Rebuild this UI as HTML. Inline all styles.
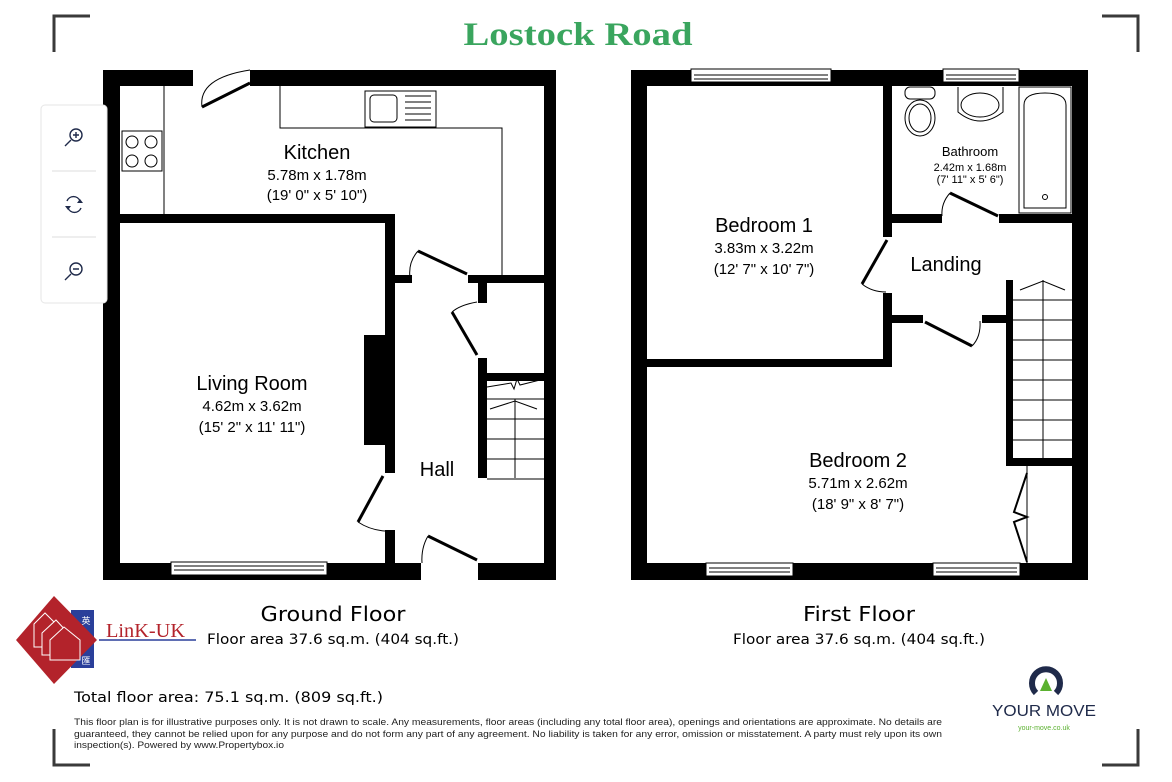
<!DOCTYPE html>
<html><head><meta charset="utf-8"><style>
html,body{margin:0;padding:0;background:#fff;}
svg{display:block;}
text{font-family:"Liberation Sans",sans-serif;}
.dv{font-family:"DejaVu Sans",sans-serif;}
</style></head><body>
<svg width="1172" height="782" viewBox="0 0 1172 782" xmlns="http://www.w3.org/2000/svg">
<rect width="1172" height="782" fill="#fff"/>
<g stroke="#3a3a3a" stroke-width="3" fill="none">
<path d="M54 52 V16 H90"/><path d="M1102 16 H1138 V52"/>
<path d="M54 729 V765 H90"/><path d="M1102 765 H1138 V729"/>
</g>
<text x="578" y="45" text-anchor="middle" style="font-family:'Liberation Serif',serif" font-weight="bold" font-size="33" fill="#3aa55e" textLength="229" lengthAdjust="spacingAndGlyphs">Lostock Road</text>

<!-- GROUND FLOOR -->
<g fill="#000">
<rect x="103" y="70" width="453" height="16"/>
<rect x="103" y="563" width="453" height="17"/>
<rect x="103" y="70" width="17" height="510"/>
<rect x="544" y="70" width="12" height="510"/>
<rect x="120" y="214" width="275" height="9"/>
<rect x="385" y="214" width="10" height="259"/>
<rect x="385" y="530" width="10" height="35"/>
<rect x="395" y="275" width="17" height="8"/>
<rect x="468" y="275" width="80" height="8"/>
<rect x="478" y="283" width="9" height="20"/>
<rect x="478" y="358" width="9" height="120"/>
<rect x="478" y="373" width="70" height="8"/>
<rect x="364" y="335" width="23" height="110"/>
</g>
<rect x="193" y="68" width="57" height="19" fill="#fff"/>
<rect x="421" y="562" width="57" height="20" fill="#fff"/>
<g stroke="#000" stroke-width="3" fill="none">
<line x1="250" y1="83" x2="202" y2="107"/>
<line x1="418" y1="251" x2="467" y2="274"/>
<line x1="477" y1="355" x2="452" y2="312"/>
<line x1="383" y1="476" x2="358" y2="522"/>
<line x1="428" y1="536" x2="477" y2="560"/>
</g>
<g stroke="#000" stroke-width="1" fill="none">
<path d="M250 70 Q198 78 202 107"/>
<path d="M418 251 Q408 262 410 278"/>
<path d="M477 302 Q460 305 452 312"/>
<path d="M358 522 Q370 530 385 531"/>
<path d="M428 536 Q421 548 422 563"/>
<path d="M164 86 V214"/>
<path d="M280 86 V128 H502 V275"/>
<rect x="122" y="131" width="40" height="40"/>
<circle cx="132" cy="142" r="6"/><circle cx="151" cy="142" r="6"/>
<circle cx="132" cy="161" r="6"/><circle cx="151" cy="161" r="6"/>
<rect x="365" y="91" width="71" height="36"/>
<rect x="370" y="95" width="27" height="27" rx="4"/>
<path d="M405 96 H431 M405 102 H431 M405 108 H431 M405 114 H431 M405 120 H431"/>
<path d="M487 399 H544 M487 419 H544 M487 439 H544 M487 459 H544 M515 399 V478 M487 479 H544"/>
<path d="M487 387 L511 383 L514 389 L517 379 L520 385 L544 379"/>
<path d="M490 409 L515 401 L537 409"/>
<rect x="171" y="562" width="156" height="13" fill="#fff"/>
<path d="M174 566 H324 M174 570 H324"/>
</g>
<g fill="#000" text-anchor="middle">
<text x="317" y="159" font-size="20">Kitchen</text>
<text x="317" y="180" font-size="15">5.78m x 1.78m</text>
<text x="317" y="200" font-size="15">(19' 0" x 5' 10")</text>
<text x="252" y="390" font-size="20">Living Room</text>
<text x="252" y="411" font-size="15">4.62m x 3.62m</text>
<text x="252" y="432" font-size="15">(15' 2" x 11' 11")</text>
<text x="437" y="476" font-size="20">Hall</text>
</g>

<!-- FIRST FLOOR -->
<g fill="#000">
<rect x="631" y="70" width="457" height="16"/>
<rect x="631" y="563" width="457" height="17"/>
<rect x="631" y="70" width="16" height="510"/>
<rect x="1072" y="70" width="16" height="510"/>
<rect x="883" y="70" width="9" height="167"/>
<rect x="883" y="293" width="9" height="74"/>
<rect x="647" y="359" width="245" height="8"/>
<rect x="892" y="214" width="50" height="9"/>
<rect x="999" y="214" width="73" height="9"/>
<rect x="892" y="315" width="31" height="8"/>
<rect x="982" y="315" width="31" height="8"/>
<rect x="1006" y="280" width="7" height="186"/>
<rect x="1006" y="458" width="66" height="8"/>
</g>
<g stroke="#000" stroke-width="3" fill="none">
<line x1="950" y1="193" x2="998" y2="216"/>
<line x1="887" y1="240" x2="862" y2="284"/>
<line x1="925" y1="322" x2="972" y2="346"/>
</g>
<g stroke="#000" stroke-width="1" fill="none">
<path d="M950 193 Q941 203 942 216"/>
<path d="M862 284 Q872 292 886 292"/>
<path d="M972 346 Q981 337 980 321"/>
<rect x="691" y="69" width="140" height="13" fill="#fff"/><path d="M694 75 H828 M694 79 H828"/>
<rect x="943" y="69" width="76" height="13" fill="#fff"/><path d="M946 75 H1016 M946 79 H1016"/>
<rect x="706" y="563" width="87" height="13" fill="#fff"/><path d="M709 568 H790 M709 572 H790"/>
<rect x="933" y="563" width="87" height="13" fill="#fff"/><path d="M936 568 H1017 M936 572 H1017"/>
<rect x="905" y="87" width="30" height="12" rx="5"/>
<ellipse cx="920" cy="118" rx="15" ry="18"/>
<ellipse cx="920" cy="118" rx="11" ry="14"/>
<path d="M958 87 V112 Q980 130 1003 112 V87"/>
<ellipse cx="980" cy="105" rx="19" ry="12"/>
<rect x="1019" y="87" width="52" height="126"/>
<path d="M1024 208 V105 Q1024 93 1045 93 Q1066 93 1066 105 V208 Z"/>
<circle cx="1045" cy="197" r="2.5"/>
<path d="M1013 300 H1072 M1013 320 H1072 M1013 340 H1072 M1013 360 H1072 M1013 380 H1072 M1013 400 H1072 M1013 420 H1072 M1013 440 H1072 M1043 280 V458"/>
<path d="M1020 290 L1043 281 L1065 290"/>
<path d="M1027 466 V563"/>
<path d="M1027 473 L1014 512 L1027 517 L1014 522 L1027 562" stroke-width="2"/>
</g>
<g fill="#000" text-anchor="middle">
<text x="764" y="232" font-size="20">Bedroom 1</text>
<text x="764" y="253" font-size="15">3.83m x 3.22m</text>
<text x="764" y="274" font-size="15">(12' 7" x 10' 7")</text>
<text x="970" y="156" font-size="13">Bathroom</text>
<text x="970" y="171" font-size="11">2.42m x 1.68m</text>
<text x="970" y="183" font-size="11">(7' 11" x 5' 6")</text>
<text x="946" y="271" font-size="20">Landing</text>
<text x="858" y="467" font-size="20">Bedroom 2</text>
<text x="858" y="488" font-size="15">5.71m x 2.62m</text>
<text x="858" y="509" font-size="15">(18' 9" x 8' 7")</text>
</g>

<!-- captions -->
<g fill="#000" class="dv">
<text class="dv" x="333" y="621" text-anchor="middle" font-size="20" textLength="145" lengthAdjust="spacingAndGlyphs">Ground Floor</text>
<text class="dv" x="333" y="644" text-anchor="middle" font-size="14" textLength="252" lengthAdjust="spacingAndGlyphs">Floor area 37.6 sq.m. (404 sq.ft.)</text>
<text class="dv" x="859" y="621" text-anchor="middle" font-size="20" textLength="112" lengthAdjust="spacingAndGlyphs">First Floor</text>
<text class="dv" x="859" y="644" text-anchor="middle" font-size="14" textLength="252" lengthAdjust="spacingAndGlyphs">Floor area 37.6 sq.m. (404 sq.ft.)</text>
<text class="dv" x="74" y="702" font-size="14" textLength="309" lengthAdjust="spacingAndGlyphs">Total floor area: 75.1 sq.m. (809 sq.ft.)</text>
</g>
<g font-size="9.5" fill="#222">
<text x="74" y="725" textLength="868" lengthAdjust="spacingAndGlyphs">This floor plan is for illustrative purposes only. It is not drawn to scale. Any measurements, floor areas (including any total floor area), openings and orientations are approximate. No details are</text>
<text x="74" y="737" textLength="868" lengthAdjust="spacingAndGlyphs">guaranteed, they cannot be relied upon for any purpose and do not form any part of any agreement. No liability is taken for any error, omission or misstatement. A party must rely upon its own</text>
<text x="74" y="748" textLength="210" lengthAdjust="spacingAndGlyphs">inspection(s). Powered by www.Propertybox.io</text>
</g>

<!-- Link-UK logo -->
<rect x="71" y="610" width="23" height="58" fill="#2a3f9a"/>
<polygon points="54,596 97,640 54,684 16,640" fill="#b3232b"/>
<text x="86" y="624" text-anchor="middle" font-size="9" fill="#fff" style="font-family:'Noto Sans CJK SC',sans-serif">英</text>
<text x="86" y="664" text-anchor="middle" font-size="9" fill="#fff" style="font-family:'Noto Sans CJK SC',sans-serif">匯</text>
<g stroke="#fff" stroke-width="1" fill="none">
<path d="M34 624 L45 613 L56 624 V647 H34 Z"/>
<path d="M42 633 L56 620 L68 633 V655 H42 Z" fill="#b3232b"/>
<path d="M50 640 L64 627 L80 640 V660 H50 Z" fill="#b3232b"/>
</g>
<text x="106" y="637" font-size="20" fill="#b3232b" style="font-family:'Liberation Serif',serif" textLength="79" lengthAdjust="spacingAndGlyphs">LinK-UK</text>
<line x1="99" y1="640" x2="196" y2="640" stroke="#2a3f9a" stroke-width="1.5"/>

<!-- Your Move logo -->
<path d="M1036 693 A14 14 0 1 1 1056 693" stroke="#1f2a4a" stroke-width="6" fill="none"/>
<polygon points="1046,678 1040,691 1052,691" fill="#5bb130"/>
<text x="1044" y="716" text-anchor="middle" font-size="16" fill="#1f2a4a" textLength="104" lengthAdjust="spacingAndGlyphs">YOUR MOVE</text>
<text x="1044" y="730" text-anchor="middle" font-size="7" fill="#5bb130">your-move.co.uk</text>

<!-- zoom toolbar -->
<rect x="41" y="105" width="66" height="198" rx="4" fill="#fff" stroke="#e6e6e6"/>
<g stroke="#ddd"><line x1="52" y1="171" x2="96" y2="171"/><line x1="52" y1="237" x2="96" y2="237"/></g>
<g stroke="#1f2a4a" stroke-width="1.4" fill="none">
<circle cx="76" cy="135" r="6"/><path d="M73 135 H79 M76 132 V138 M71 140 L65 146"/>
<circle cx="76" cy="269" r="6"/><path d="M73 269 H79 M71 274 L65 280"/>
<path d="M67 201 A7 7 0 0 1 80 201 M81 208 A7 7 0 0 1 68 208"/>
</g>
<g fill="#1f2a4a"><polygon points="80,199 83,203 77,203"/><polygon points="68,210 65,206 71,206"/></g>
</svg>
</body></html>
